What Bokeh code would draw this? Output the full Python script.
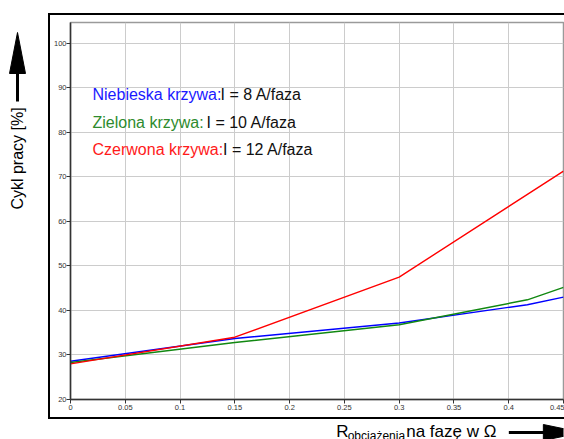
import math
from bokeh.plotting import figure
from bokeh.models import Label, FixedTicker, Range1d, Spacer
from bokeh.layouts import row, column
from bokeh.embed import file_html
from bokeh.resources import INLINE
from bokeh.core.properties import value

# ---- data ----
r_blue = [0.0, 0.15, 0.30, 0.417, 0.45]
duty_blue = [28.6, 33.7, 37.2, 41.3, 43.0]
r_green = [0.0, 0.15, 0.30, 0.417, 0.45]
duty_green = [28.3, 32.8, 36.8, 42.4, 45.2]
r_red = [0.0, 0.15, 0.30, 0.45]
duty_red = [28.0, 34.0, 47.5, 71.3]

x_ticks = [0, 0.05, 0.1, 0.15, 0.2, 0.25, 0.3, 0.35, 0.4, 0.45]
y_ticks = [20, 30, 40, 50, 60, 70, 80, 90, 100]

legend_lines = [
    ("Niebieska krzywa:", "I = 8 A/faza", "#1a1aff"),
    ("Zielona krzywa:", "I = 10 A/faza", "#2e8b2e"),
    ("Czerwona krzywa:", "I = 12 A/faza", "#ff1a1a"),
]
y_title = "Cykl pracy [%]"
x_title_main = "R"
x_title_sub = "obciążenia"
x_title_rest = "na fazę w Ω"

FONT = "Liberation Sans"
PAGE_W, PAGE_H = 564, 439
BOX_L, BOX_T, BOX_B = 50, 15, 417          # outer box (page px)
FL, FT, FB, FR = 70, 22, 399, 563          # plot frame (page px)

# ---------------- main chart ----------------
MW, MH = PAGE_W - BOX_L, BOX_B - BOX_T
p = figure(width=MW, height=MH, output_backend="svg", toolbar_location=None,
           title=None, x_range=(0, 0.45), y_range=(20, 104.7),
           min_border_left=FL - BOX_L, min_border_right=PAGE_W - FR,
           min_border_top=FT - BOX_T, min_border_bottom=BOX_B - FB)
p.styles = {"box-shadow": "-2px 0 0 0 black, 0 -2px 0 0 black, 0 2px 0 0 black, "
                          "-2px -2px 0 0 black, -2px 2px 0 0 black"}
p.background_fill_color = "white"
p.border_fill_color = "white"
p.outline_line_color = "#9a9a9a"
p.outline_line_width = 1.5

for ax in (p.xaxis[0], p.yaxis[0]):
    ax.axis_line_color = "#333333"
    ax.axis_line_width = 1.5
    ax.major_tick_line_color = "#333333"
    ax.major_tick_out = 4
    ax.major_tick_in = 0
    ax.minor_tick_line_color = None
    ax.major_label_text_font = FONT
    ax.major_label_text_font_size = "7.5px"
    ax.major_label_text_color = "#333333"
    ax.major_label_standoff = 1
p.yaxis[0].major_label_standoff = 0
p.xaxis[0].ticker = FixedTicker(ticks=x_ticks)
p.yaxis[0].ticker = FixedTicker(ticks=y_ticks)
p.xaxis[0].major_label_overrides = {t: ("%g" % t) for t in x_ticks}

p.xgrid.ticker = FixedTicker(ticks=x_ticks)
p.ygrid.ticker = FixedTicker(ticks=y_ticks)
for g in (p.xgrid[0], p.ygrid[0]):
    g.grid_line_color = "#cccccc"
    g.grid_line_width = 1

p.line(r_blue, duty_blue, line_color="#0000ff", line_width=1.4)
p.line(r_green, duty_green, line_color="#118811", line_width=1.4)
p.line(r_red, duty_red, line_color="#ff0000", line_width=1.4)

# page coords -> annotation screen coords (origin at frame bottom-left, y up)
def sx(x):
    return x - FL
def sy(y):
    return FB - y

leg_x = 92
black_x = [220, 206, 222.5]
leg_y = [94, 122, 149]
for (c_txt, b_txt, col), bx, ly in zip(legend_lines, black_x, leg_y):
    p.add_layout(Label(x=sx(leg_x), y=sy(ly), x_units="screen", y_units="screen",
                       text=c_txt, text_color=col, text_font=FONT,
                       text_font_size="16px", text_baseline="middle", text_align="left"))
    p.add_layout(Label(x=sx(bx), y=sy(ly), x_units="screen", y_units="screen",
                       text=b_txt, text_color="#111111", text_font=FONT,
                       text_font_size="16px", text_baseline="middle", text_align="left"))

# ---------------- helper canvases (page-pixel data coordinates, y down) ----------------
def blank(w, h, x0, y0):
    f = figure(width=w, height=h, output_backend="svg", toolbar_location=None,
               title=None,
               x_range=Range1d(x0, x0 + w), y_range=Range1d(y0 + h, y0),
               x_axis_location=None, y_axis_location=None,
               min_border=0, min_border_left=0, min_border_right=0,
               min_border_top=0, min_border_bottom=0)
    f.grid.visible = False
    f.outline_line_color = None
    f.background_fill_color = "white"
    f.border_fill_color = "white"
    return f

# left strip: y title + upward arrow
left = blank(BOX_L - 2, PAGE_H, 0, 0)
left.add_layout(Label(x=17, y=158, text=y_title, angle=math.pi / 2, text_font=FONT,
                      text_font_size="16px", text_align="center", text_baseline="middle",
                      text_color="black"))
left.quad(left=15.5, right=18.5, top=70, bottom=101, fill_color="black", line_color=None)
left.patch([17, 25, 9], [32, 73, 73], fill_color="black", line_color="black", line_width=1)

# bottom strip: x title + right arrow (positions compensated for the strip's offset)
BY0 = BOX_B + 2
bottom = blank(MW, PAGE_H - BY0, BOX_L, BY0)
bottom.text(x=[327], y=[431], text=[x_title_main], text_font=value(FONT),
            text_font_size="17px", text_align="left", text_baseline="alphabetic",
            text_color="black")
bottom.text(x=[339], y=[435], text=[x_title_sub], text_font=value(FONT),
            text_font_size="12px", text_align="left", text_baseline="alphabetic",
            text_color="black")
bottom.text(x=[400], y=[431], text=[x_title_rest], text_font=value(FONT),
            text_font_size="17px", text_align="left", text_baseline="alphabetic",
            text_color="black")
bottom.quad(left=507, right=546, top=430.5, bottom=433.5, fill_color="black", line_color=None)
bottom.patch([543, 583, 543], [424, 432, 440], fill_color="black", line_color="black", line_width=1)

layout = row(left, Spacer(width=2, height=PAGE_H),
             column(Spacer(width=MW, height=BOX_T), p, Spacer(width=MW, height=2), bottom))

open("out.html", "w").write(file_html(layout, INLINE))
